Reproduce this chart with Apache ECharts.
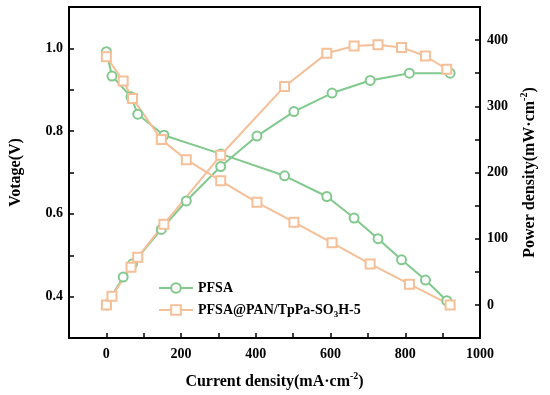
<!DOCTYPE html>
<html>
<head>
<meta charset="utf-8">
<script src="https://cdn.jsdelivr.net/npm/echarts@6/dist/echarts.min.js"></script>
<style>html,body{margin:0;padding:0;background:#fff;}#c{width:550px;height:395px;}</style>
</head>
<body>
<div id="c"></div>
<script>
// Current density points (mA·cm^-2)
const currentA = [0, 15, 66, 84, 154, 306, 477, 590, 663, 727, 790, 854, 911];
const currentB = [0, 45, 70, 147, 214, 306, 403, 502, 604, 706, 811, 920];
// PFSA
const pfsaVoltage = [0.992, 0.933, 0.883, 0.841, 0.79, 0.745, 0.692, 0.642, 0.59, 0.54, 0.489, 0.44, 0.39];
const pfsaPower = [0, 42, 62, 114, 157, 209, 255, 292, 320, 339, 350, 350];
// PFSA@PAN/TpPa-SO3H-5
const compVoltage = [0.98, 0.921, 0.879, 0.78, 0.731, 0.68, 0.628, 0.58, 0.53, 0.479, 0.43, 0.38];
const compPower = [0, 13, 57, 72, 122, 226, 330, 380, 391, 393, 389, 376, 356];

const names = ['PFSA', 'PFSA@PAN/TpPa-SO3H-5'];
const xTickLabels = ['0', '200', '400', '600', '800', '1000'];
const leftTickLabels = ['0.4', '0.6', '0.8', '1.0'];
const rightTickLabels = ['0', '100', '200', '300', '400'];

const green = '#82c98e';
const orange = '#f5bf98';
const font = "'Liberation Serif', 'Times New Roman', serif";

function zip(xs, ys) { return xs.map((x, i) => [x, ys[i]]); }

const lbl = { fontFamily: font, fontWeight: 'bold', fontSize: 14, color: '#000' };
const axisLineStyle = { show: true, onZero: false, lineStyle: { color: '#000', width: 2 } };
const tick = { show: true, inside: true, length: 5, lineStyle: { color: '#000', width: 1.5 } };
const titleRich = {
  n: { fontFamily: font, fontWeight: 'bold', fontSize: 16, color: '#000', lineHeight: 22, verticalAlign: 'middle' },
  sup: { fontFamily: font, fontWeight: 'bold', fontSize: 10, color: '#000', lineHeight: 12, verticalAlign: 'top' }
};
const titleStyle = { fontFamily: font, fontWeight: 'bold', fontSize: 16, color: '#000', rich: titleRich };

function series(name, xs, ys, color, symbol, yIndex) {
  return {
    name: name, type: 'line', yAxisIndex: yIndex, data: zip(xs, ys),
    symbol: symbol, symbolSize: 9,
    lineStyle: { color: color, width: 2 },
    itemStyle: { color: color, borderColor: color, borderWidth: 1.6 },
    emphasis: { disabled: true }, animation: false
  };
}

const chart = echarts.init(document.getElementById('c'), null, { renderer: 'canvas' });
chart.setOption({
  backgroundColor: '#fff',
  animation: false,
  grid: { left: 67, right: 70, top: 7, bottom: 56, show: true, borderColor: '#000', borderWidth: 2, backgroundColor: 'transparent' },
  legend: {
    orient: 'vertical', left: 153, top: 276, itemWidth: 34, itemHeight: 12, itemGap: 8,
    data: names,
    textStyle: {
      fontFamily: font, fontWeight: 'bold', fontSize: 14, color: '#000',
      rich: {
        a: { fontFamily: font, fontWeight: 'bold', fontSize: 14, color: '#000', lineHeight: 18, verticalAlign: 'middle' },
        s: { fontFamily: font, fontWeight: 'bold', fontSize: 9, color: '#000', lineHeight: 10, verticalAlign: 'bottom' }
      }
    },
    formatter: function (n) {
      if (n === names[1]) return '{a|PFSA@PAN/TpPa-SO}{s|3}{a|H-5}';
      return '{a|' + n + '}';
    }
  },
  xAxis: {
    type: 'value', min: -100, max: 1000, interval: 100,
    name: '{n|Current density(mA·cm}{sup|-2}{n|)}',
    nameLocation: 'middle', nameGap: 33,
    nameTextStyle: titleStyle,
    axisLine: axisLineStyle, axisTick: tick, splitLine: { show: false },
    axisLabel: Object.assign({}, lbl, { margin: 9, formatter: function (v) { const s = String(Math.round(v)); return xTickLabels.indexOf(s) >= 0 ? s : ''; } })
  },
  yAxis: [{
    type: 'value', min: 0.3, max: 1.1, interval: 0.1, position: 'left',
    name: 'Votage(V)', nameLocation: 'middle', nameGap: 45,
    nameTextStyle: { fontFamily: font, fontWeight: 'bold', fontSize: 16, color: '#000' },
    axisLine: axisLineStyle, axisTick: tick, splitLine: { show: false },
    axisLabel: Object.assign({}, lbl, { margin: 6, formatter: function (v) { const s = (Math.round(v * 10) / 10).toFixed(1); return leftTickLabels.indexOf(s) >= 0 ? s : ''; } })
  }, {
    type: 'value', min: -50, max: 450, interval: 50, position: 'right',
    name: '{n|Power density(mW·cm}{sup|-2}{n|)}', nameLocation: 'middle', nameGap: 39, nameRotate: 90,
    nameTextStyle: titleStyle,
    axisLine: axisLineStyle, axisTick: tick, splitLine: { show: false },
    axisLabel: Object.assign({}, lbl, { margin: 7, formatter: function (v) { const s = String(Math.round(v)); return rightTickLabels.indexOf(s) >= 0 ? s : ''; } })
  }],
  series: [
    series(names[0], currentA, pfsaVoltage, green, 'emptyCircle', 0),
    series(names[0], currentB, pfsaPower, green, 'emptyCircle', 1),
    series(names[1], currentB, compVoltage, orange, 'emptyRect', 0),
    series(names[1], currentA, compPower, orange, 'emptyRect', 1)
  ]
});
</script>
</body>
</html>
